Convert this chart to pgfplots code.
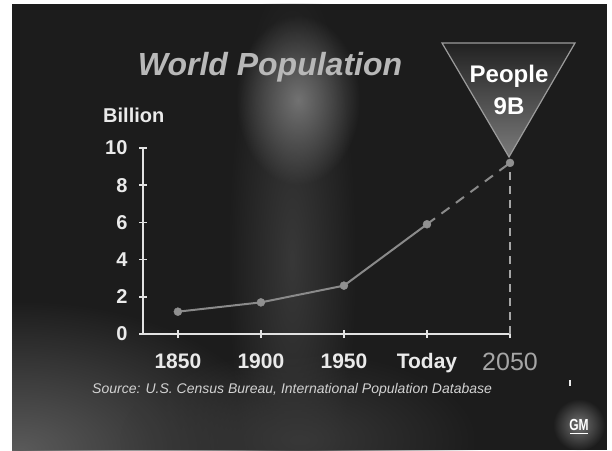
\documentclass[border=0pt]{standalone}
\usepackage{fontspec}
\setmainfont{Liberation Sans}
\usepackage{pgfplots}
\pgfplotsset{compat=1.18}
\usetikzlibrary{fadings}

\definecolor{slide}{HTML}{1C1C1C}
\definecolor{axiscol}{HTML}{E2E2E2}
\definecolor{labelcol}{HTML}{EAEAEA}
\definecolor{titlecol}{HTML}{B8B8B8}
\definecolor{late}{HTML}{A6A6A6}
\definecolor{linecol}{HTML}{8A8A8A}
\definecolor{markcol}{HTML}{909090}
\definecolor{hazeA}{HTML}{727272}
\definecolor{hazeB}{HTML}{383838}
\definecolor{hazeC}{HTML}{5A5A5A}
\definecolor{triTop}{HTML}{222222}
\definecolor{triMid}{HTML}{2E2E2E}
\definecolor{triBot}{HTML}{7A7A7A}
\definecolor{triEdge}{HTML}{9C9C9C}
\definecolor{srccol}{HTML}{D2D2D2}

\tikzfading[name=softspot, inner color=transparent!0, outer color=transparent!100]

\begin{document}
\begin{tikzpicture}[x=1pt,y=1pt]
\useasboundingbox (0,0) rectangle (612,450);
% page and slide background
\fill[white] (0,0) rectangle (612,450);
\fill[slide] (12,0) rectangle (607,446);

% soft light patches on the slide
\begin{scope}
  \clip (12,0) rectangle (607,446);
  \fill[hazeB, path fading=softspot] (292,190) ellipse (65 and 290);
  \fill[hazeA, path fading=softspot] (298,350) ellipse (62 and 85);
  \fill[hazeC, path fading=softspot] (20,0) ellipse (260 and 150);
  \fill[hazeB, path fading=softspot] (300,10) ellipse (180 and 90);
\end{scope}

% title and axis caption
\node[anchor=base, inner sep=0, text=titlecol,
      font=\bfseries\itshape\fontsize{32}{32}\selectfont] at (270,374) {World Population};
\node[anchor=base west, inner sep=0, text=labelcol,
      font=\bfseries\fontsize{20}{20}\selectfont] at (103,327) {Billion};

\begin{axis}[
  at={(143pt,116pt)}, anchor=south west,
  scale only axis, width=367pt, height=186pt,
  xmin=-0.42, xmax=4, ymin=0, ymax=10,
  axis lines=left,
  axis line style={-, draw=axiscol, line width=2pt},
  xtick={0,1,2,3,4},
  xticklabels={1850,1900,1950,Today,{\color{late}\mdseries\fontsize{25}{25}\selectfont 2050}},
  ytick={0,2,4,6,8,10},
  yticklabels={0,2,4,6,8,10},
  tick style={draw=axiscol, line width=1.6pt},
  major tick length=8pt, tick align=center,
  xticklabel style={text=labelcol, font=\bfseries\fontsize{21}{21}\selectfont, yshift=-12pt},
  yticklabel style={text=labelcol, font=\bfseries\fontsize{20}{20}\selectfont, xshift=-8pt},
  clip=false,
]
  % observed growth
  \addplot[linecol, line width=2pt] coordinates {(0,1.2) (1,1.7) (2,2.6) (3,5.9)};
  % projection to 2050
  \addplot[linecol, line width=2pt, dash pattern=on 10pt off 8pt] coordinates {(3,5.9) (4,9.2)};
  \addplot[late, line width=1.2pt, dash pattern=on 8pt off 6pt] coordinates {(4,0) (4,9.2)};
  \addplot[only marks, mark=*, mark size=4pt, draw=markcol, fill=markcol]
    coordinates {(0,1.2) (1,1.7) (2,2.6) (3,5.9) (4,9.2)};
\end{axis}

% callout for the 2050 projection
\shade[top color=triTop, middle color=triMid, bottom color=triBot]
  (442,407) -- (575,407) -- (509,293) -- cycle;
\draw[triEdge, line width=1.2pt] (442,407) -- (575,407) -- (509,293) -- cycle;
\node[anchor=base, inner sep=0, text=white, font=\bfseries\fontsize{24}{24}\selectfont] at (509,367) {People};
\node[anchor=base, inner sep=0, text=white, font=\bfseries\fontsize{24}{24}\selectfont] at (509,335) {9B};

% source line
\node[anchor=base west, inner sep=0, text=srccol, font=\itshape\fontsize{14}{14}\selectfont]
  at (92,57) {Source: U.S. Census Bureau, International Population Database};

% corner mark and logo
\fill[labelcol] (568.5,64) rectangle (570.5,70);
\fill[hazeA, path fading=softspot] (579,25) circle (26);
\node[anchor=base, inner sep=0, text=white, xscale=0.75,
      font=\bfseries\fontsize{16}{16}\selectfont] at (579,20) {GM};
\draw[white, line width=1.8pt] (570,16.5) -- (588,16.5);
\end{tikzpicture}
\end{document}
